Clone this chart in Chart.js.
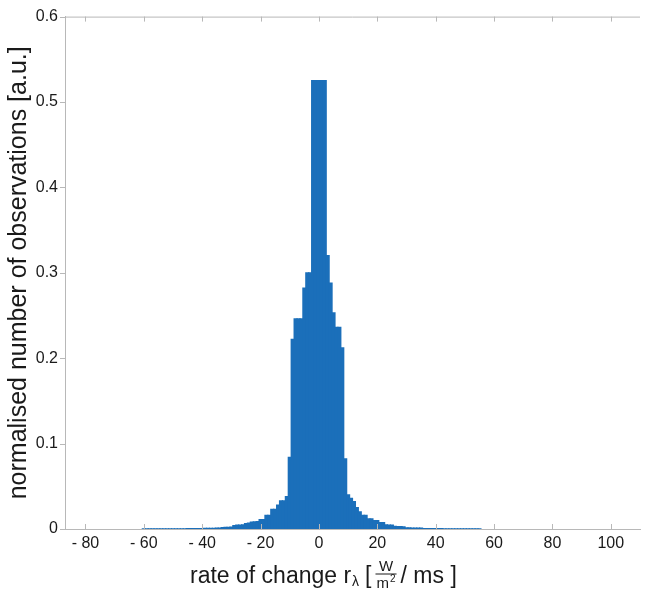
<!DOCTYPE html>
<html lang="en">
<head>
  <meta charset="UTF-8">
  <title>Rate of change histogram</title>
  <script src="https://cdn.jsdelivr.net/npm/chart.js"></script>
  <style>
    body { margin: 0; background: #fff; }
    canvas { display: block; }
  </style>
</head>
<body>
  <canvas id="histChart" width="651" height="592"></canvas>

  <script>
    // bin centres of the histogram, rate of change in W/m2 per ms
    const rate = [
      -60, -59, -58, -57, -56, -55, -54, -53, -52, -51,
      -50, -49, -48, -47, -46, -45, -44, -43, -42, -41,
      -40, -39, -38, -37, -36, -35, -34, -33, -32, -31,
      -30, -29, -28, -27, -26, -25, -24, -23, -22, -21,
      -20, -19, -18, -17, -16, -15, -14, -13, -12, -11,
      -10, -9, -8, -7, -6, -5, -4, -3, -2, -1,
      0, 1, 2, 3, 4, 5, 6, 7, 8, 9,
      10, 11, 12, 13, 14, 15, 16, 17, 18, 19,
      20, 21, 22, 23, 24, 25, 26, 27, 28, 29,
      30, 31, 32, 33, 34, 35, 36, 37, 38, 39,
      40, 41, 42, 43, 44, 45, 46, 47, 48, 49,
      50, 51, 52, 53, 54, 55
    ];

    // normalised number of observations per bin
    const share = [
      0.0001, 0.0001, 0.0001, 0.0001, 0.0001, 0.0001, 0.0001, 0.0001, 0.0001, 0.0001,
      0.0002, 0.0002, 0.0003, 0.0003, 0.0003, 0.0004, 0.0004, 0.0004, 0.0005, 0.0005,
      0.0006, 0.0007, 0.0007, 0.0008, 0.0009, 0.0010, 0.0011, 0.0016, 0.0018, 0.0020,
      0.0022, 0.0040, 0.0045, 0.0047, 0.0050, 0.0064, 0.0068, 0.0082, 0.0085, 0.0088,
      0.011, 0.011, 0.016, 0.016, 0.023, 0.023, 0.028, 0.033, 0.033, 0.038,
      0.084, 0.222, 0.246, 0.246, 0.246, 0.282, 0.300, 0.300, 0.525, 0.525,
      0.525, 0.525, 0.525, 0.320, 0.288, 0.253, 0.236, 0.236, 0.212, 0.082,
      0.040, 0.036, 0.032, 0.025, 0.020, 0.016, 0.016, 0.012, 0.012, 0.0097,
      0.0097, 0.0074, 0.0074, 0.0050, 0.0047, 0.0045, 0.0030, 0.0028, 0.0027, 0.0025,
      0.0014, 0.0013, 0.0012, 0.0012, 0.0011, 0.0010, 0.0006, 0.0006, 0.0005, 0.0005,
      0.0005, 0.0004, 0.0004, 0.0003, 0.0003, 0.0003, 0.0002, 0.0002, 0.0002, 0.0002,
      0.0002, 0.0001, 0.0001, 0.0001, 0.0001, 0.0001
    ];

    const xTicks = [-80, -60, -40, -20, 0, 20, 40, 60, 80, 100];
    const yTicks = [0, 0.1, 0.2, 0.3, 0.4, 0.5, 0.6];

    const FONT = '"Liberation Sans", Arial, Helvetica, sans-serif';
    const TEXT = '#1a1a1a';
    const AXIS = '#b8b8b8';

    // top frame line, small tick marks and the x title with its fraction
    const frameAndTitle = {
      id: 'frameAndTitle',
      afterDraw(chart) {
        const { ctx, chartArea: a, scales: { x, y } } = chart;
        ctx.save();
        ctx.strokeStyle = AXIS;
        ctx.lineWidth = 1;
        ctx.beginPath();
        ctx.moveTo(a.left, a.top + 0.5);
        ctx.lineTo(a.right, a.top + 0.5);
        xTicks.forEach(v => {
          const px = Math.round(x.getPixelForValue(v)) + 0.5;
          ctx.moveTo(px, a.bottom);
          ctx.lineTo(px, a.bottom - 5);
          ctx.moveTo(px, a.top);
          ctx.lineTo(px, a.top + 5);
        });
        yTicks.forEach(v => {
          const py = Math.round(y.getPixelForValue(v)) + 0.5;
          ctx.moveTo(a.left, py);
          ctx.lineTo(a.left - 5, py);
        });
        ctx.stroke();

        // x axis title: rate of change r_lambda [ W/m^2 / ms ]
        ctx.fillStyle = TEXT;
        ctx.strokeStyle = TEXT;
        ctx.textBaseline = 'alphabetic';
        ctx.textAlign = 'left';
        const base = 583;
        let px = 190;
        ctx.font = '23px ' + FONT;
        ctx.fillText('rate of change r', px, base);
        px += ctx.measureText('rate of change r').width;
        ctx.font = '14px ' + FONT;
        ctx.fillText('λ', px + 1, base + 3);
        px += ctx.measureText('λ').width + 7;
        ctx.font = '23px ' + FONT;
        ctx.fillText('[', px, base);
        px += ctx.measureText('[').width + 5;

        const lineY = base - 9.5;
        ctx.font = '15px ' + FONT;
        const wM = ctx.measureText('m').width;
        ctx.font = '10px ' + FONT;
        const w2 = ctx.measureText('2').width;
        const fracW = wM + w2 + 1;
        ctx.font = '15px ' + FONT;
        const wW = ctx.measureText('W').width;
        ctx.fillText('W', px + (fracW - wW) / 2, lineY - 3);
        ctx.beginPath();
        ctx.lineWidth = 1;
        ctx.moveTo(px - 1, lineY + 0.5);
        ctx.lineTo(px + fracW + 1, lineY + 0.5);
        ctx.stroke();
        ctx.fillText('m', px, lineY + 14);
        ctx.font = '10px ' + FONT;
        ctx.fillText('2', px + wM + 1, lineY + 8);
        px += fracW + 5;

        ctx.font = '23px ' + FONT;
        ctx.fillText('/ ms ]', px, base);
        ctx.restore();
      }
    };

    const ctx = document.getElementById('histChart').getContext('2d');
    new Chart(ctx, {
      type: 'bar',
      data: {
        datasets: [{
          data: rate.map((r, i) => ({ x: r, y: share[i] })),
          backgroundColor: '#1b6fba',
          borderWidth: 0,
          inflateAmount: 0.6,
          barPercentage: 1,
          categoryPercentage: 1
        }]
      },
      options: {
        responsive: false,
        animation: false,
        layout: { padding: { top: 14, right: 11, left: 0, bottom: 0 } },
        plugins: {
          legend: { display: false },
          tooltip: { enabled: false }
        },
        scales: {
          x: {
            type: 'linear',
            min: -87,
            max: 110,
            offset: false,
            grid: { display: false, drawTicks: false },
            border: { display: true, color: AXIS, width: 1 },
            afterBuildTicks: scale => { scale.ticks = xTicks.map(v => ({ value: v })); },
            afterFit: scale => { scale.height = 63; },
            ticks: {
              color: TEXT,
              padding: 5,
              maxRotation: 0,
              font: { family: FONT, size: 16 },
              callback: v => (v < 0 ? '- ' + Math.abs(v) : String(v))
            }
          },
          y: {
            min: 0,
            max: 0.6,
            grid: { display: false, drawTicks: false },
            border: { display: true, color: AXIS, width: 1 },
            afterBuildTicks: scale => { scale.ticks = yTicks.map(v => ({ value: v })); },
            afterFit: scale => { scale.width = 65; },
            ticks: {
              color: TEXT,
              padding: 7,
              font: { family: FONT, size: 16 },
              callback: v => (v === 0 ? '0' : v.toFixed(1))
            },
            title: {
              display: true,
              text: 'normalised number of observations [a.u.]',
              color: TEXT,
              font: { family: FONT, size: 25 },
              padding: { top: 4, bottom: 0 }
            }
          }
        }
      },
      plugins: [frameAndTitle]
    });
  </script>
</body>
</html>
